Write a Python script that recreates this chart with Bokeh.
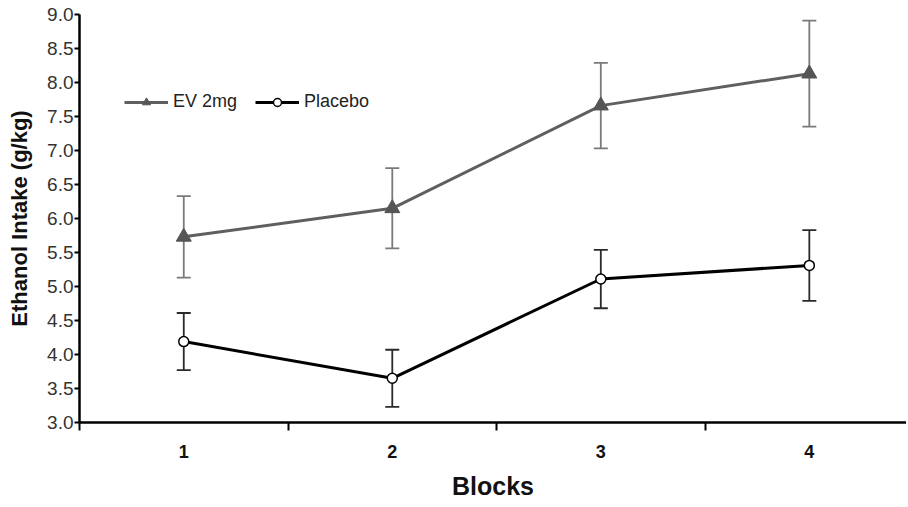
from bokeh.plotting import figure
from bokeh.models import (ColumnDataSource, Whisker, TeeHead, FixedTicker, Legend, LegendItem,
                          Range1d, CustomJSTickFormatter)
from bokeh.embed import file_html
from bokeh.resources import INLINE

blocks = [1, 2, 3, 4]
block_labels = ["1", "2", "3", "4"]
ev_mean = [5.73, 6.15, 7.66, 8.13]
ev_sem = [0.60, 0.59, 0.63, 0.78]
pl_mean = [4.19, 3.65, 5.11, 5.31]
pl_sem = [0.42, 0.42, 0.43, 0.52]
y_ticks = [3.0, 3.5, 4.0, 4.5, 5.0, 5.5, 6.0, 6.5, 7.0, 7.5, 8.0, 8.5, 9.0]

FONT = "Liberation Sans"

ev_src = ColumnDataSource(dict(x=blocks, y=ev_mean,
                               lo=[m - s for m, s in zip(ev_mean, ev_sem)],
                               hi=[m + s for m, s in zip(ev_mean, ev_sem)]))
pl_src = ColumnDataSource(dict(x=blocks, y=pl_mean,
                               lo=[m - s for m, s in zip(pl_mean, pl_sem)],
                               hi=[m + s for m, s in zip(pl_mean, pl_sem)]))

p = figure(frame_width=827, frame_height=408, output_backend="svg", toolbar_location=None,
           x_range=Range1d(0.5, 4.466), y_range=Range1d(3.0, 9.0),
           min_border_left=79, min_border_right=0, min_border_top=14, min_border_bottom=0)
p.outline_line_color = None
p.xgrid.grid_line_color = None
p.ygrid.grid_line_color = None
p.background_fill_color = "white"
p.border_fill_color = "white"

# error bars
for src, col in [(ev_src, "#7a7a7a"), (pl_src, "#2a2a2a")]:
    w = Whisker(source=src, base="x", upper="hi", lower="lo", line_color=col, line_width=1.8,
                upper_head=TeeHead(size=14, line_color=col, line_width=1.8),
                lower_head=TeeHead(size=14, line_color=col, line_width=1.8))
    p.add_layout(w)

ev_line = p.line("x", "y", source=ev_src, line_color="#5f5f5f", line_width=3)
ev_pts = p.scatter("x", "y", source=ev_src, marker="triangle", size=15,
                   fill_color="#555555", line_color="#555555")
pl_line = p.line("x", "y", source=pl_src, line_color="black", line_width=3)
pl_pts = p.scatter("x", "y", source=pl_src, marker="circle", size=10,
                   fill_color="white", line_color="black", line_width=1.5)

legend = Legend(items=[LegendItem(label="EV 2mg", renderers=[ev_line, ev_pts]),
                       LegendItem(label="Placebo", renderers=[pl_line, pl_pts])],
                orientation="horizontal", location=(45, 310), border_line_color=None,
                background_fill_alpha=0, padding=0, margin=0, spacing=18,
                glyph_width=44, glyph_height=20, label_standoff=5,
                label_text_font=FONT, label_text_font_size="18px", label_text_color="#222222")
p.add_layout(legend)

# x axis
xa = p.xaxis[0]
xa.ticker = FixedTicker(ticks=blocks, minor_ticks=[0.5, 1.5, 2.5, 3.5, 4.5])
xa.major_label_overrides = {b: l for b, l in zip(blocks, block_labels)}
xa.major_tick_out = 0
xa.major_tick_in = 0
xa.minor_tick_out = 8
xa.minor_tick_in = 0
xa.minor_tick_line_width = 2
xa.minor_tick_line_color = "black"
xa.axis_line_width = 2.5
xa.axis_line_color = "black"
xa.major_label_standoff = 14
xa.major_label_text_font = FONT
xa.major_label_text_font_style = "bold"
xa.major_label_text_font_size = "18px"
xa.major_label_text_color = "#111111"
xa.axis_label = "Blocks"
xa.axis_label_text_font = FONT
xa.axis_label_text_font_style = "bold"
xa.axis_label_text_font_size = "25px"
xa.axis_label_text_color = "#111111"
xa.axis_label_standoff = 11

# y axis
ya = p.yaxis[0]
ya.ticker = FixedTicker(ticks=y_ticks, minor_ticks=[])
ya.formatter = CustomJSTickFormatter(code="return tick.toFixed(1);")
ya.major_tick_out = 5
ya.major_tick_in = 0
ya.major_tick_line_width = 2
ya.major_tick_line_color = "black"
ya.axis_line_width = 2.5
ya.axis_line_color = "black"
ya.major_label_standoff = 1
ya.major_label_text_font = FONT
ya.major_label_text_font_size = "19px"
ya.major_label_text_color = "#333333"
ya.axis_label = "Ethanol Intake (g/kg)"
ya.axis_label_text_font = FONT
ya.axis_label_text_font_style = "bold"
ya.axis_label_text_font_size = "22px"
ya.axis_label_text_color = "#111111"
ya.axis_label_standoff = 12

open("out.html", "w").write(file_html(p, INLINE))
